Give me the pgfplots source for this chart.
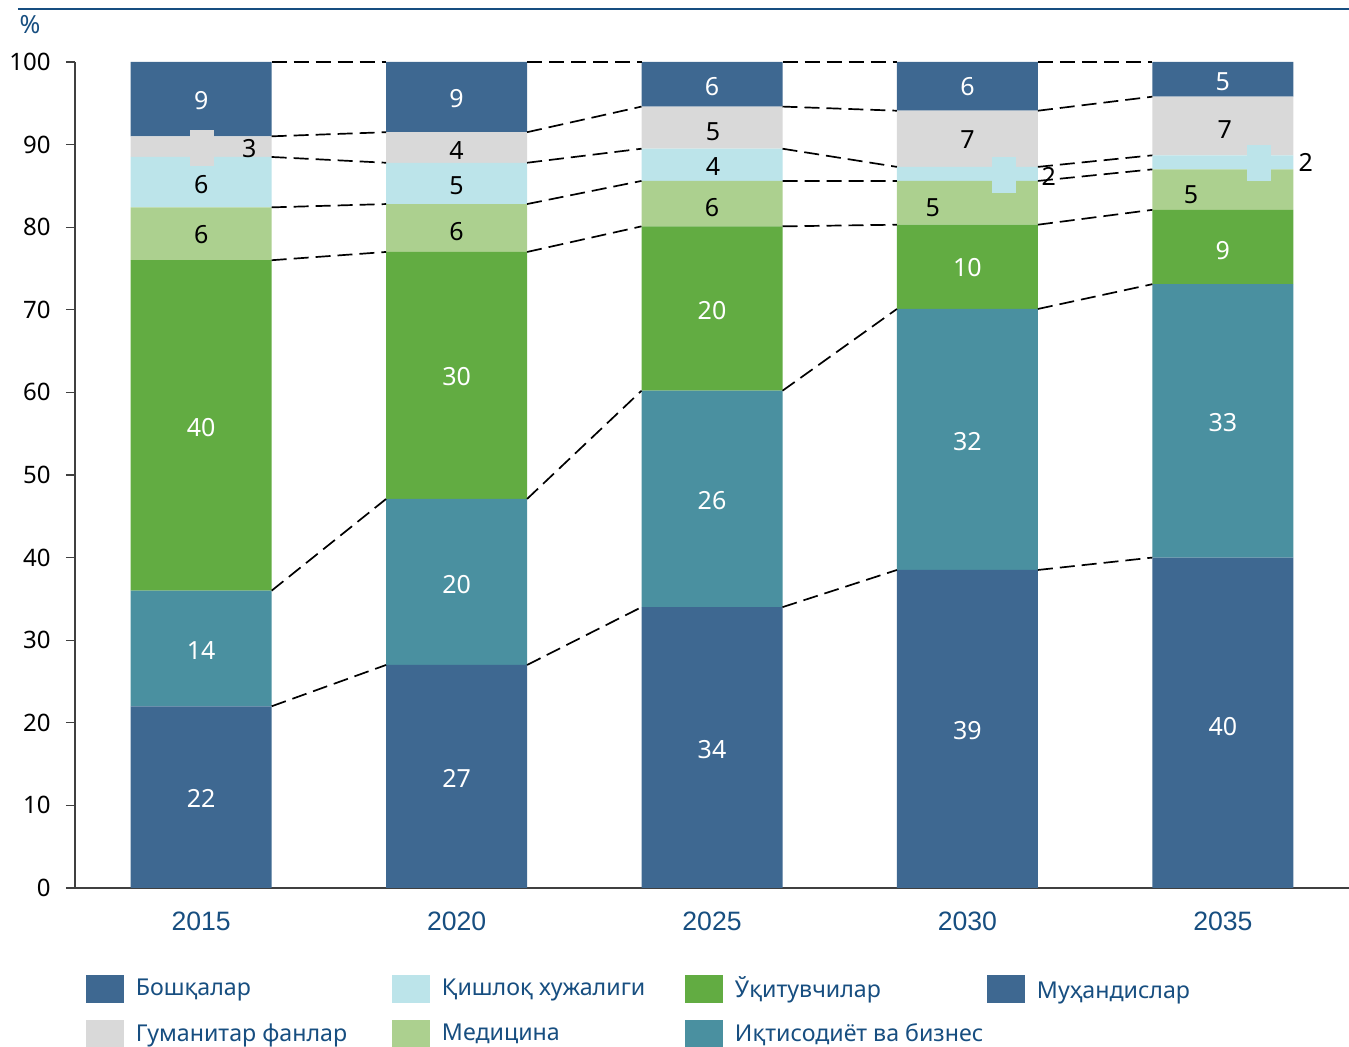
\documentclass[border=0pt]{standalone}
\usepackage{fontspec}
\usepackage{pgfplots}
\usepackage{pgfplotstable}
\pgfplotsset{compat=1.18}
\newfontfamily\notos{Noto Sans}
\newfontfamily\libs{Liberation Sans}
\definecolor{cBos}{RGB}{62,104,145}
\definecolor{cGum}{RGB}{217,217,217}
\definecolor{cQis}{RGB}{188,228,234}
\definecolor{cMed}{RGB}{172,208,143}
\definecolor{cUqi}{RGB}{98,172,66}
\definecolor{cIqt}{RGB}{74,144,160}
\definecolor{cMuh}{RGB}{62,104,145}
\definecolor{tblue}{RGB}{23,78,128}

\pgfplotstableread{
x muh iqt uqi med qis gum bos
0 22   14   40   6.4 6.1 2.5 9.0
1 27   20.1 29.9 5.8 5.0 3.7 8.5
2 34   26.2 19.9 5.5 3.9 5.1 5.4
3 38.5 31.6 10.2 5.3 1.7 6.8 5.9
4 40   33.1 9.0  4.9 1.7 7.1 4.2
}\datatab

\begin{document}
\begin{tikzpicture}
\useasboundingbox (-37.5pt,-79.5pt) rectangle (637pt,444pt);
\draw[tblue, line width=1pt] (-28.5pt,439.5pt) -- (637pt,439.5pt);
\node[font=\notos\fontsize{12.5}{14}\selectfont, text=tblue] at (-22.5pt,431.5pt) {\%};
\begin{axis}[
  at={(0,0)}, anchor=south west,
  scale only axis, width=637pt, height=413pt,
  xmin=-0.494, xmax=4.494, ymin=0, ymax=100,
  ybar stacked, bar width=70.5pt,
  axis x line*=bottom, axis y line*=left,
  axis line style={black!75, line width=0.6pt},
  xtick={0,1,2,3,4}, xticklabels={2015,2020,2025,2030,2035},
  x tick style={draw=none},
  ytick={0,10,...,100},
  tick align=outside, major tick length=4.5pt,
  y tick style={black!75, line width=0.6pt},
  /pgf/number format/assume math mode=true,
  yticklabel style={font=\notos\fontsize{12}{13}\selectfont, anchor=east, inner sep=0pt, xshift=-7.5pt},
  xticklabel style={font=\libs\fontsize{13.3}{15}\selectfont, text=tblue, anchor=north, inner sep=0pt, yshift=-7.5pt},
  legend columns=4,
  legend cell align=left,
  legend image code/.code={\fill[#1] (0pt,-7pt) rectangle (19pt,7pt);},
  legend style={draw=none, fill=none, at={(axis description cs:0.0086,-0.1053)}, anchor=north west,
    inner sep=0pt, outer sep=0pt, column sep=0pt, row sep=8.5pt,
    font=\notos\fontsize{11.6}{14}\selectfont, text=tblue, nodes={inner sep=0pt}},
]
\addplot[fill=cMuh, draw=none, forget plot] table[x=x, y=muh] {\datatab};
\addplot[fill=cIqt, draw=none, forget plot] table[x=x, y=iqt] {\datatab};
\addplot[fill=cUqi, draw=none, forget plot] table[x=x, y=uqi] {\datatab};
\addplot[fill=cMed, draw=none, forget plot] table[x=x, y=med] {\datatab};
\addplot[fill=cQis, draw=none, forget plot] table[x=x, y=qis] {\datatab};
\addplot[fill=cGum, draw=none, forget plot] table[x=x, y=gum] {\datatab};
\addplot[fill=cBos, draw=none, forget plot] table[x=x, y=bos] {\datatab};
\addlegendimage{fill=cBos, draw=none}
\addlegendentry{\hspace{6pt}\makebox[128pt][l]{Бошқалар}}
\addlegendimage{fill=cQis, draw=none}
\addlegendentry{\hspace{6pt}\makebox[121.5pt][l]{Қишлоқ хужалиги}}
\addlegendimage{fill=cUqi, draw=none}
\addlegendentry{\hspace{6pt}\makebox[126pt][l]{Ўқитувчилар}}
\addlegendimage{fill=cMuh, draw=none}
\addlegendentry{\hspace{6pt}\raisebox{-3pt}{\makebox[100pt][l]{Муҳандислар}}}
\addlegendimage{fill=cGum, draw=none}
\addlegendentry{\hspace{6pt}\makebox[128pt][l]{Гуманитар фанлар}}
\addlegendimage{fill=cMed, draw=none}
\addlegendentry{\hspace{6pt}\makebox[121.5pt][l]{Медицина}}
\addlegendimage{fill=cIqt, draw=none}
\addlegendentry{\hspace{6pt}\makebox[126pt][l]{Иқтисодиёт ва бизнес}}
\end{axis}
\begin{axis}[
  at={(0,0)}, anchor=south west,
  scale only axis, width=637pt, height=413pt,
  xmin=-0.494, xmax=4.494, ymin=0, ymax=100,
  hide axis, clip=false, unbounded coords=jump,
]
% callout crosses
\addplot[fill=cGum, draw=none] coordinates {(-0.043,87.4) (0.051,87.4) (0.051,91.8) (-0.043,91.8)} -- cycle;
\addplot[fill=cQis, draw=none] coordinates {(3.095,84.1) (3.189,84.1) (3.189,88.5) (3.095,88.5)} -- cycle;
\addplot[fill=cQis, draw=none] coordinates {(4.094,85.6) (4.188,85.6) (4.188,90.0) (4.094,90.0)} -- cycle;
% dashed connectors
\pgfplotsset{conn/.style={black, line width=0.85pt, dash pattern=on 7.5pt off 3.5pt, no marks, sharp plot}}
\addplot[conn] coordinates {(0.276,22) (0.724,27) (1,nan) (1.276,27) (1.724,34) (2,nan) (2.276,34) (2.724,38.5) (3,nan) (3.276,38.5) (3.724,40)};
\addplot[conn] coordinates {(0.276,36) (0.724,47.1) (1,nan) (1.276,47.1) (1.724,60.2) (2,nan) (2.276,60.2) (2.724,70.1) (3,nan) (3.276,70.1) (3.724,73.1)};
\addplot[conn] coordinates {(0.276,76) (0.724,77) (1,nan) (1.276,77) (1.724,80.1) (2,nan) (2.276,80.1) (2.724,80.3) (3,nan) (3.276,80.3) (3.724,82.1)};
\addplot[conn] coordinates {(0.276,82.4) (0.724,82.8) (1,nan) (1.276,82.8) (1.724,85.6) (2,nan) (2.276,85.6) (2.724,85.6) (3,nan) (3.276,85.6) (3.724,87.0)};
\addplot[conn] coordinates {(0.276,88.5) (0.724,87.8) (1,nan) (1.276,87.8) (1.724,89.5) (2,nan) (2.276,89.5) (2.724,87.3) (3,nan) (3.276,87.3) (3.724,88.7)};
\addplot[conn] coordinates {(0.276,91.0) (0.724,91.5) (1,nan) (1.276,91.5) (1.724,94.6) (2,nan) (2.276,94.6) (2.724,94.1) (3,nan) (3.276,94.1) (3.724,95.8)};
\addplot[conn] coordinates {(0.276,100) (0.724,100) (1,nan) (1.276,100) (1.724,100) (2,nan) (2.276,100) (2.724,100) (3,nan) (3.276,100) (3.724,100)};
% labels
\addplot[only marks, mark=none, nodes near coords, point meta=explicit symbolic,
  nodes near coords align=center,
  every node near coord/.append style={font=\notos\fontsize{12.5}{14}\selectfont, text=white, inner sep=0pt}]
coordinates {
(0,95.3)[9] (0,55.7)[40] (0,28.8)[14] (0,10.8)[22]
(1,95.6)[9] (1,61.9)[30] (1,36.7)[20] (1,13.3)[27]
(2,97.0)[6] (2,69.9)[20] (2,46.9)[26] (2,16.7)[34]
(3,97.0)[6] (3,75.1)[10] (3,54.1)[32] (3,19.0)[39]
(4,97.6)[5] (4,77.2)[9] (4,56.3)[33] (4,19.6)[40]
};
\addplot[only marks, mark=none, nodes near coords, point meta=explicit symbolic,
  nodes near coords align=center,
  every node near coord/.append style={font=\notos\fontsize{12.5}{14}\selectfont, text=black, inner sep=0pt}]
coordinates {
(0.188,89.5)[3] (0,85.2)[6] (0,79.1)[6]
(1,89.3)[4] (1,85.0)[5] (1,79.5)[6]
(2.004,91.6)[5] (2.004,87.3)[4] (2,82.4)[6]
(3,90.6)[7] (3.318,86.2)[2] (2.864,82.3)[5]
(4.008,91.8)[7] (4.325,87.8)[2] (3.875,83.9)[5]
};
\end{axis}
\end{tikzpicture}
\end{document}
